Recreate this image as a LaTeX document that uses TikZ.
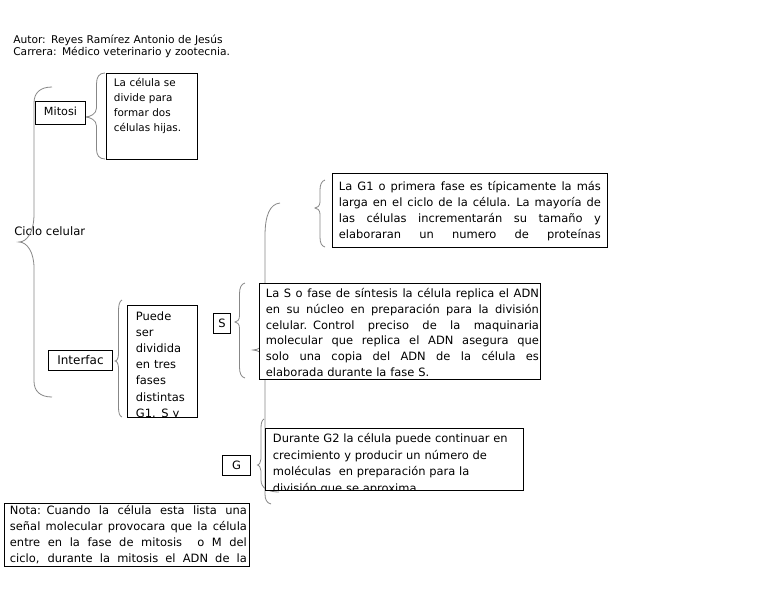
\documentclass[tikz,border=0pt]{standalone}
\usepackage{fontspec}
\setmainfont{DejaVu Sans}
\definecolor{llavegris}{RGB}{135,135,135}
\newcommand{\just}[1]{\leavevmode\hbox to\linewidth{\spaceskip=0.318em plus 1fil\relax #1}}
\tikzset{
    llave/.style={draw=llavegris, line width=0.6pt},
    caja/.style={draw, fill=white, line width=0.7pt, inner sep=0pt, anchor=north west},
    letra/.style={font=\fontsize{8.6}{11.8}\selectfont},
    dentro/.style={anchor=base west, inner sep=0pt, align=left, draw=none, fill=none, minimum width=0pt, minimum height=0pt}
}

\begin{document}
\begin{tikzpicture}[x=0.75pt, y=-0.75pt]
    \fill[white] (0,0) rectangle (768,594);
    \useasboundingbox (0,0) rectangle (768,594);

    \node[anchor=base west, inner sep=0pt, text width=250pt, align=left, font=\fontsize{8}{9}\selectfont] (autor) at (13,43) {Autor: Reyes Ramírez Antonio de Jesús\\Carrera: Médico veterinario y zootecnia.};
    \node[anchor=base west, inner sep=0pt, font=\fontsize{8.7}{11}\selectfont] (ciclo) at (14,235.5) {Ciclo celular};

    % llaves
    \draw[llave] (52,87) .. controls (40,87) and (34,93) .. (34,103) -- (34,214) .. controls (34,232) and (27,242) .. (19,242) .. controls (27,242) and (34,252) .. (34,268) -- (34,381) .. controls (34,391) and (40,397) .. (52,397);
    \draw[llave] (105,73) .. controls (99,73) and (96.5,77) .. (96.5,84) -- (96.5,108) .. controls (96.5,114) and (90,117) .. (85,117) .. controls (90,117) and (96.5,120) .. (96.5,126) -- (96.5,149) .. controls (96.5,155) and (99,159) .. (105,159);
    \draw[llave] (122,300) .. controls (119.5,301) and (118.5,305) .. (118.5,311) -- (118.5,354) .. controls (118.5,358) and (117,361) .. (115,361) .. controls (117,361) and (118.5,364) .. (118.5,368) -- (118.5,407) .. controls (118.5,413) and (119.5,416) .. (122,417);
    \draw[llave] (245,283) .. controls (241,284) and (239.5,288) .. (239.5,294) -- (239.5,316) .. controls (239.5,320) and (237,322) .. (235,322) .. controls (237,322) and (239.5,324) .. (239.5,328) -- (239.5,367) .. controls (239.5,373) and (241,377) .. (245,378);
    \draw[llave] (325,180) .. controls (321.5,181) and (320,185) .. (320,190) -- (320,202) .. controls (320,206) and (317,208) .. (315,208) .. controls (317,208) and (320,210) .. (320,214) -- (320,237) .. controls (320,243) and (321.5,246) .. (325,247);
    \draw[llave] (280,203) .. controls (270,204) and (265,215) .. (265,236) -- (265,340) .. controls (265,346) and (258,350) .. (253,350) .. controls (258,350) and (265,354) .. (265,360) -- (265,494) .. controls (265,500) and (267,503) .. (271,504);
    \draw[llave] (264,419) .. controls (262,420) and (261,423) .. (261,428) -- (261,459) .. controls (261,462) and (259,465) .. (257.5,465) .. controls (259,465) and (261,468) .. (261,471) -- (261,480) .. controls (261,488) and (268,492) .. (279,492);

    % cajas pequeñas
    \node[caja, minimum width=37.5pt, minimum height=17.25pt, text depth=3pt, font=\fontsize{8.4}{10}\selectfont] (mitosi) at (35,101) {Mitosi};
    \node[caja, minimum width=48pt, minimum height=15pt, font=\fontsize{9}{11}\selectfont] (interfac) at (48,350) {Interfac};
    \node[caja, minimum width=12.75pt, minimum height=15pt, letra] (s) at (213,313) {S};
    \node[caja, minimum width=21pt, minimum height=15pt, letra] (g) at (222,455) {G};

    % cajas de texto
    \node[caja, minimum width=68.25pt, minimum height=64.5pt, path picture={
        \node[dentro, text width=64pt, font=\fontsize{7.8}{11.25}\selectfont] at ([shift={(5.25pt,-9.4pt)}]path picture bounding box.north west)
        {La célula se\\divide para\\formar dos\\células hijas.};}] (hijas) at (106,73) {};

    \node[caja, minimum width=206.25pt, minimum height=55.5pt, path picture={
        \node[dentro, text width=196.5pt, font=\fontsize{8.6}{12}\selectfont] at ([shift={(4.5pt,-13.1pt)}]path picture bounding box.north west)
        {\just{La G1 o primera fase es típicamente la más}\\\just{larga en el ciclo de la célula. La mayoría de}\\\just{las células incrementarán su tamaño y}\\\just{elaboraran un numero de proteínas}};}] (g1) at (332,173) {};

    \node[caja, minimum width=210.75pt, minimum height=72pt, path picture={
        \node[dentro, text width=204.75pt, font=\fontsize{8.6}{11.85}\selectfont] at ([shift={(4.5pt,-10.5pt)}]path picture bounding box.north west)
        {\just{La S o fase de síntesis la célula replica el ADN}\\\just{en su núcleo en preparación para la división}\\\just{celular. Control preciso de la maquinaria}\\\just{molecular que replica el ADN asegura que}\\\just{solo una copia del ADN de la célula es}\\elaborada durante la fase S.};}] (fases) at (259,283) {};

    \node[caja, minimum width=52.5pt, minimum height=84pt, path picture={
        \node[dentro, text width=50pt, font=\fontsize{8.6}{12.1}\selectfont] at ([shift={(6pt,-11.2pt)}]path picture bounding box.north west)
        {Puede\\ser\\dividida\\en tres\\fases\\distintas\\G1. S y};}] (puede) at (127,305) {};

    \node[caja, minimum width=193.5pt, minimum height=46.5pt, path picture={
        \node[dentro, text width=190pt, font=\fontsize{8.6}{12.4}\selectfont] at ([shift={(5.25pt,-10.5pt)}]path picture bounding box.north west)
        {Durante G2 la célula puede continuar en\\crecimiento y producir un número de\\moléculas\ \ en preparación para la\\división que se aproxima.};}] (g2) at (265,428) {};

    \node[caja, minimum width=183.75pt, minimum height=47.25pt, path picture={
        \node[dentro, text width=177.75pt, font=\fontsize{8.6}{11.8}\selectfont] at ([shift={(3.75pt,-8.6pt)}]path picture bounding box.north west)
        {\just{Nota: Cuando la célula esta lista una}\\\just{señal molecular provocara que la célula}\\\just{entre en la fase de mitosis\ \ o M del}\\\just{ciclo, durante la mitosis el ADN de la}};}] (nota) at (4,503) {};
\end{tikzpicture}
\end{document}
